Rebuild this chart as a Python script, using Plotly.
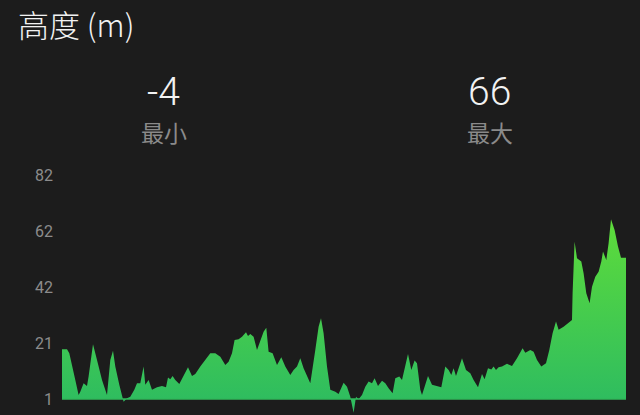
import plotly.graph_objs as go

# distance along the route (km) and altitude (m), read from the profile
dist = [0, 0.5, 0.73, 1.0, 1.33, 1.66, 1.83, 2.16, 2.5, 2.66,
        3.1, 3.5, 4.0, 4.5, 4.83, 5.1, 5.33, 5.73, 6.16, 6.5,
        6.83, 7.23, 7.5, 7.83, 8.16, 8.33, 8.66, 9.0, 9.5, 10.0,
        10.4, 10.6, 10.83, 11.06, 11.33, 11.73, 12.16, 12.6, 13.0, 13.33,
        13.83, 14.33, 14.83, 15.33, 15.83, 16.33, 16.66, 17.0, 17.26, 17.66,
        18.0, 18.4, 18.6, 18.83, 19.16, 19.5, 19.83, 20.16, 20.43, 20.66,
        21.06, 21.5, 21.93, 22.33, 22.83, 23.16, 23.5, 23.83, 24.16, 24.83,
        25.33, 25.66, 25.9, 26.16, 26.5, 26.83, 27.33, 27.66, 28.16, 28.5,
        28.83, 29.16, 29.4, 29.66, 30.0, 30.33, 30.66, 31.0, 31.26, 31.6,
        32.0, 32.33, 32.66, 33.06, 33.33, 33.73, 34.0, 34.33, 34.6, 34.93,
        35.26, 35.5, 35.83, 36.0, 36.33, 36.6, 37.0, 37.5, 37.93, 38.33,
        38.66, 38.93, 39.16, 39.4, 39.66, 40.0, 40.4, 40.83, 41.16, 41.6,
        42.0, 42.26, 42.6, 42.93, 43.16, 43.4, 43.66, 44.0, 44.5, 45.0,
        45.5, 46.06, 46.33, 46.83, 47.16, 47.5, 47.93, 48.4, 48.73, 49.06,
        49.4, 49.66, 50.16, 50.66, 51.0, 51.06, 51.26, 51.5, 51.93, 52.16,
        52.43, 52.76, 53.0, 53.33, 53.66, 53.93, 54.1, 54.43, 54.66, 54.9,
        55.26, 55.6, 55.9, 56.4]

alt = [19.0, 19.0, 17.5, 12.7, 7.9, 2.4, 3.6, 6.7, 5.7, 9.1,
       20.8, 15.1, 7.9, 2.4, 15.1, 18.4, 12.7, 6.1, 0.0, 1.3,
       1.8, 4.3, 6.7, 6.7, 12.7, 6.1, 7.9, 4.3, 5.2, 5.7,
       5.2, 8.8, 8.1, 9.3, 7.9, 6.4, 9.3, 12.5, 9.3, 10.0,
       12.7, 15.1, 17.5, 17.5, 16.3, 13.3, 14.5, 17.5, 22.3, 22.6,
       23.5, 25.1, 23.8, 24.5, 23.5, 18.7, 21.7, 25.3, 26.8, 18.1,
       17.5, 13.3, 16.1, 12.7, 9.7, 11.5, 12.7, 15.7, 12.1, 6.7,
       18.7, 27.1, 30.2, 24.8, 12.7, 4.3, 3.6, 2.8, 6.9, 5.4,
       1.8, -4.0, 1.8, 0.9, 2.4, 5.4, 7.3, 6.7, 8.5, 5.7,
       7.6, 6.7, 4.9, 3.1, 8.5, 9.1, 7.9, 13.3, 17.3, 11.5,
       14.9, 13.9, 4.3, 2.4, 6.1, 9.3, 6.1, 5.7, 5.2, 12.7,
       11.5, 9.7, 12.1, 9.3, 12.1, 15.7, 11.5, 10.3, 7.9, 5.2,
       10.0, 8.1, 12.1, 11.7, 12.7, 11.5, 12.5, 12.7, 13.7, 12.9,
       15.7, 19.3, 17.7, 18.7, 18.1, 15.1, 12.7, 13.9, 18.7, 24.8,
       29.0, 26.0, 27.1, 28.4, 29.6, 39.2, 57.9, 51.9, 50.7, 46.5,
       39.2, 35.6, 41.6, 45.2, 47.0, 50.7, 54.3, 51.3, 57.3, 66.0,
       62.1, 56.1, 52.1, 52.1]

tick_vals = [1, 21.25, 41.5, 61.75, 82]
tick_text = ["1", "21", "42", "62", "82"]

stat_values = ["-4", "66"]
stat_labels = ["最小", "最大"]

base = 1
bg = "#1c1c1c"

fig = go.Figure()

# baseline the area is filled down to
fig.add_trace(go.Scatter(x=[dist[0], dist[-1]], y=[base, base], mode="lines",
                         line=dict(color="#30b95a", width=1.5),
                         hoverinfo="skip", showlegend=False))

fig.add_trace(go.Scatter(
    x=dist, y=alt, mode="lines", fill="tonexty",
    line=dict(width=0, color="#45cf4f"),
    fillgradient=dict(type="vertical", start=base, stop=66,
                      colorscale=[[0, "#2fbd5f"], [1, "#5edc3a"]]),
    showlegend=False,
))

annotations = [
    dict(text="高度 (m)", x=-0.081, y=1.63, xanchor="left", yanchor="middle",
         font=dict(size=31, color="#f2f2f2", weight=300)),
]
for px, val, lab in zip([0.18, 0.758], stat_values, stat_labels):
    annotations.append(dict(text=val, x=px, y=1.345, xanchor="center", yanchor="middle",
                            font=dict(size=39, color="#f2f2f2", family="Roboto", weight=300)))
    annotations.append(dict(text=lab, x=px, y=1.18, xanchor="center", yanchor="middle",
                            font=dict(size=23, color="#8a8a8a")))
for a in annotations:
    a.update(xref="paper", yref="paper", showarrow=False)

fig.update_layout(
    width=640, height=415,
    margin=dict(l=62, r=14, t=175, b=0),
    paper_bgcolor=bg, plot_bgcolor=bg,
    font=dict(family="Noto Sans CJK SC", color="#f2f2f2"),
    annotations=annotations,
    xaxis=dict(range=[0, 56.4], visible=False, fixedrange=True),
    yaxis=dict(range=[-4.8, 82], tickvals=tick_vals, ticktext=tick_text,
               showgrid=False, zeroline=False, showline=False, ticks="",
               ticklabelstandoff=8,
               tickfont=dict(family="Roboto", size=16, color="#8c8c8c")),
)

fig.write_html("out.html", config={"displayModeBar": False},
               post_script="document.body.style.margin='0';")
